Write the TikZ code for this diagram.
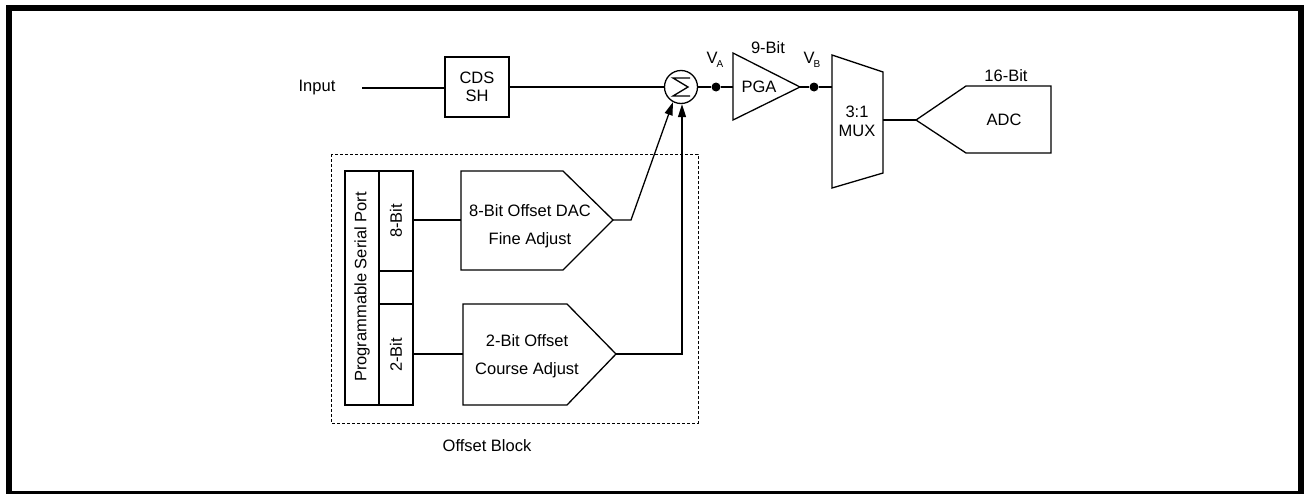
\documentclass[tikz,border=0pt]{standalone}
\usepackage{fontspec}
\setmainfont{Liberation Sans}
\usetikzlibrary{arrows.meta}
\begin{document}
\begin{tikzpicture}[x=1pt,y=-1pt,
  every node/.style={font=\fontsize{16.5}{18}\selectfont, inner sep=0pt},
  ln/.style={line width=1.3pt},
  arr/.style={ln,-{Triangle[length=13pt,width=8pt]}},
  blk/.style={ln,line join=miter},
  dot/.style={circle,fill=black,minimum size=9pt,inner sep=0pt},
  lbl/.style={align=center}]
\useasboundingbox (0,0) rectangle (1304,493);
\draw[line width=6pt] (9,8) rectangle (1301,494);

% Input and CDS/SH
\node (in) at (317,88) {Input};
\coordinate (inl) at (362,88);
\node[draw,ln,minimum width=64pt,minimum height=60pt,lbl] (cds) at (477,87) {CDS\\[0pt]SH};
\draw[ln] (inl) -- (cds.west |- inl);

% summer
\node[draw,ln,circle,minimum size=33pt] (sum) at (681,87) {};
\draw[ln,line join=miter] ([shift={(9,-9)}]sum.center) -- ++(-17,0) -- ++(15,9) -- ++(-15,9) -- ++(17,0);
\draw[ln] (cds.east |- sum.west) -- (sum.west);

% VA dot and PGA
\node[dot] (va) at (716,87) {};
\coordinate (pgaT) at (733,53);
\coordinate (pgaB) at (733,120);
\coordinate (pgaO) at (800,87);
\draw[blk] (pgaT) -- (pgaO) -- (pgaB) -- cycle;
\node (pga) at (759,87) {PGA};
\draw[ln] (sum.east) -- (va) -- (pgaT |- va);
\node (vA) at (712,58) {V};
\node[font=\fontsize{10}{11}\selectfont] (vAs) at (720,64) {A};
\node (nb) at (768,48) {9-Bit};

% VB dot and MUX
\node[dot] (vb) at (814,87) {};
\coordinate (m1) at (832,55);
\coordinate (m2) at (883,72);
\coordinate (m3) at (883,173);
\coordinate (m4) at (832,188);
\draw[blk] (m1) -- (m2) -- (m3) -- (m4) -- cycle;
\node[lbl] (mux) at (857,121) {3:1\\[1pt]MUX};
\draw[ln] (pgaO) -- (vb) -- (m1 |- vb);
\node (vB) at (809,58) {V};
\node[font=\fontsize{10}{11}\selectfont] (vBs) at (817,64) {B};

% ADC
\coordinate (a0) at (916,120);
\coordinate (a1) at (966,86);
\coordinate (a2) at (1051,86);
\coordinate (a3) at (1051,153);
\coordinate (a4) at (966,153);
\draw[blk] (a0) -- (a1) -- (a2) -- (a3) -- (a4) -- cycle;
\node (adc) at (1004,120) {ADC};
\node (sb) at (1006,76) {16-Bit};
\draw[ln] (m2 |- a0) -- (a0);

% Offset block
\draw[dashed,line width=1pt,dash pattern=on 3pt off 2pt] (331,154) rectangle (698,423);
\node (ob) at (487,446) {Offset Block};

% serial port
\draw[blk] (345,171) rectangle (413,405);
\draw[ln] (379,171) -- (379,405);
\draw[ln] (379,271) -- (413,271);
\draw[ln] (379,304) -- (413,304);
\node[rotate=90] (psp) at (362,287) {Programmable Serial Port};
\node[rotate=90] (b8) at (396,221) {8-Bit};
\node[rotate=90] (b2) at (396,355) {2-Bit};
\coordinate (sp8) at (413,220);
\coordinate (sp2) at (413,354);

% Fine DAC
\coordinate (f0) at (461,171);
\coordinate (f1) at (563,171);
\coordinate (f2) at (613,220);
\coordinate (f3) at (563,270);
\coordinate (f4) at (461,270);
\draw[blk] (f0) -- (f1) -- (f2) -- (f3) -- (f4) -- cycle;
\node[lbl] (fine) at (530,226) {8-Bit Offset DAC\\[10pt]Fine Adjust};
\draw[ln] (sp8) -- (f4 |- sp8);

% Course DAC
\coordinate (c0) at (463,304);
\coordinate (c1) at (567,304);
\coordinate (c2) at (616,354);
\coordinate (c3) at (567,405);
\coordinate (c4) at (463,405);
\draw[blk] (c0) -- (c1) -- (c2) -- (c3) -- (c4) -- cycle;
\node[lbl] (course) at (527,356) {2-Bit Offset\\[10pt]Course Adjust};
\draw[ln] (sp2) -- (c4 |- sp2);

% DAC outputs into summer
\coordinate (fk) at (631,220);
\draw[arr] (f2) -- (fk) -- (sum.-118);
\coordinate (ck) at (682,354);
\draw[arr] (c2) -- (ck) -- (ck |- sum.south);
\end{tikzpicture}
\end{document}
